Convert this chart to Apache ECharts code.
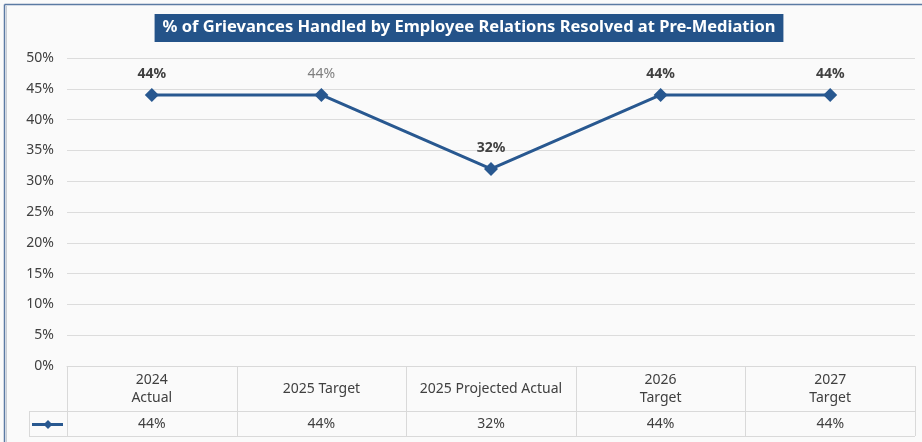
<!DOCTYPE html>
<html><head><meta charset="utf-8">
<script src="https://cdn.jsdelivr.net/npm/echarts@6/dist/echarts.min.js"></script>
<style>html,body{margin:0;padding:0;background:#ffffff;}#c{width:922px;height:442px;}</style>
</head><body><div id="c"></div>
<script>
var titleText = '% of Grievances Handled by Employee Relations Resolved at Pre-Mediation';
var categories = ['2024\nActual', '2025 Target', '2025 Projected Actual', '2026\nTarget', '2027\nTarget'];
var values = [0.44, 0.44, 0.32, 0.44, 0.44];
var tableLabels = ['44%', '44%', '32%', '44%', '44%'];
var yTicks = [0, 0.05, 0.10, 0.15, 0.20, 0.25, 0.30, 0.35, 0.40, 0.45, 0.50];

var FONT = '"Noto Sans", "Open Sans", sans-serif';
var LINE = '#285890';
var chart = echarts.init(document.getElementById('c'), null, {renderer: 'canvas'});

var option = {
  backgroundColor: '#fafafa',
  animation: false,
  grid: {left: 67, right: 7, top: 58, bottom: 76, containLabel: false},
  xAxis: {
    type: 'category', data: categories, boundaryGap: true,
    axisLine: {show: true, lineStyle: {color: '#d9d9d9', width: 1}},
    axisTick: {show: false}, axisLabel: {show: false}, splitLine: {show: false}
  },
  yAxis: {
    type: 'value', min: 0, max: 0.5, interval: 0.05,
    axisLine: {show: false}, axisTick: {show: false},
    axisLabel: {
      margin: 13, color: '#404040', fontSize: 14, fontFamily: FONT,
      formatter: function (v) { return Math.round(v * 100) + '%'; }
    },
    splitLine: {lineStyle: {color: '#dcdcdc', width: 1}}
  },
  series: [{
    type: 'line',
    symbol: 'diamond', symbolSize: 14,
    lineStyle: {color: LINE, width: 3},
    itemStyle: {color: LINE},
    label: {
      show: true, position: 'top', distance: 7,
      fontFamily: FONT, fontSize: 14, fontWeight: 'bold', color: '#404040',
      formatter: function (p) { return Math.round(p.value * 100) + '%'; }
    },
    data: values.map(function (v, i) {
      if (i === 1) return {value: v, label: {fontWeight: 'normal', color: '#7f7f7f'}};
      return v;
    })
  }]
};
chart.setOption(option);

function buildGraphics() {
  var c0 = chart.convertToPixel({xAxisIndex: 0}, 0);
  var c1 = chart.convertToPixel({xAxisIndex: 0}, 1);
  var bw = c1 - c0;
  var left = c0 - bw / 2;
  var right = left + bw * categories.length;
  var top = chart.convertToPixel({yAxisIndex: 0}, 0);
  var mid = top + 45;
  var bot = top + 70;
  var legL = 29;
  var els = [];
  var ls = {stroke: '#d9d9d9', lineWidth: 1};
  // frame
  els.push({type: 'line', shape: {x1: 4.5, y1: 4.5, x2: 922, y2: 4.5}, style: {stroke: '#5b7aa3', lineWidth: 1.5}, z: 10});
  els.push({type: 'line', shape: {x1: 4.5, y1: 4.5, x2: 4.5, y2: 442}, style: {stroke: '#5b7aa3', lineWidth: 1.5}, z: 10});
  els.push({type: 'line', shape: {x1: 6.5, y1: 6, x2: 6.5, y2: 442}, style: {stroke: '#c8cdd4', lineWidth: 1}, z: 10});
  // title box
  els.push({
    type: 'text', x: 469, y: 14, z: 20,
    style: {
      text: titleText, fill: '#ffffff', font: 'bold 16.5px "Noto Sans", sans-serif',
      align: 'center', verticalAlign: 'top',
      backgroundColor: '#245389', padding: [5, 8, 6, 8]
    }
  });
  // table horizontal lines
  els.push({type: 'line', shape: {x1: left, y1: top + 0.5, x2: right, y2: top + 0.5}, style: ls});
  els.push({type: 'line', shape: {x1: legL, y1: Math.round(mid) + 0.5, x2: right, y2: Math.round(mid) + 0.5}, style: ls});
  els.push({type: 'line', shape: {x1: legL, y1: Math.round(bot) + 0.5, x2: right, y2: Math.round(bot) + 0.5}, style: ls});
  els.push({type: 'line', shape: {x1: legL + 0.5, y1: mid, x2: legL + 0.5, y2: bot}, style: ls});
  for (var i = 0; i <= categories.length; i++) {
    var x = Math.round(left + bw * i) + 0.5;
    els.push({type: 'line', shape: {x1: x, y1: top, x2: x, y2: bot}, style: ls});
  }
  for (var j = 0; j < categories.length; j++) {
    var cx = chart.convertToPixel({xAxisIndex: 0}, j);
    els.push({type: 'text', x: cx, y: (top + mid) / 2 + 1, style: {
      text: categories[j], fill: '#404040', font: '14px ' + FONT, align: 'center', verticalAlign: 'middle', lineHeight: 18
    }});
    els.push({type: 'text', x: cx, y: (mid + bot) / 2 + 1, style: {
      text: tableLabels[j], fill: '#404040', font: '14px ' + FONT, align: 'center', verticalAlign: 'middle'
    }});
  }
  // legend key
  var ky = (mid + bot) / 2 + 1;
  els.push({type: 'line', shape: {x1: legL + 3, y1: ky, x2: left - 4, y2: ky}, style: {stroke: LINE, lineWidth: 3}});
  els.push({type: 'polygon', shape: {points: [[(legL + left) / 2, ky - 4.5], [(legL + left) / 2 + 4.5, ky], [(legL + left) / 2, ky + 4.5], [(legL + left) / 2 - 4.5, ky]]}, style: {fill: LINE}});
  chart.setOption({graphic: {elements: els}});
}
buildGraphics();
</script></body></html>
